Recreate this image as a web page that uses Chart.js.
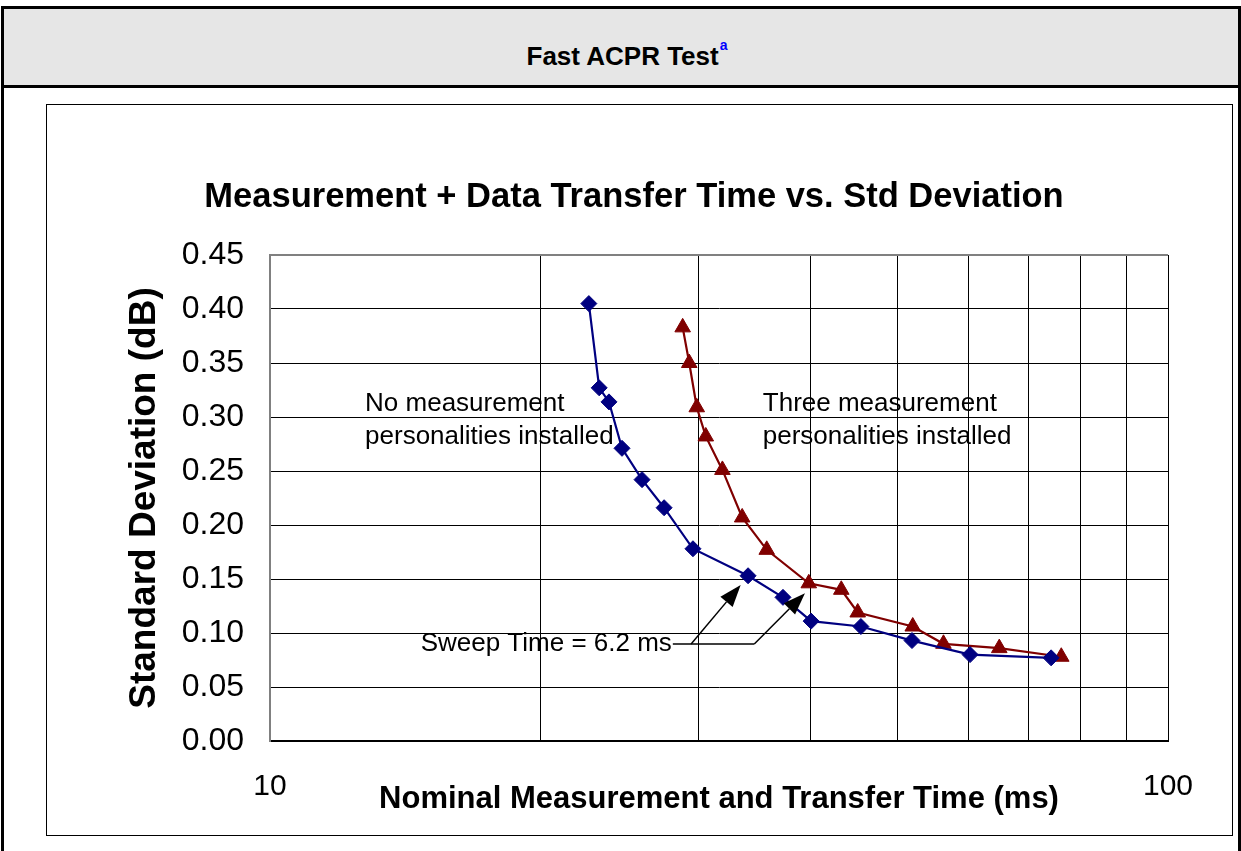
<!DOCTYPE html>
<html>
<head>
<meta charset="utf-8">
<title>Fast ACPR Test</title>
<script src="https://cdn.jsdelivr.net/npm/chart.js@4.4.1/dist/chart.umd.min.js"></script>
<style>
  body { margin: 0; background: #fff; font-family: "Liberation Sans", Arial, sans-serif; }
  #page { position: relative; width: 1241px; height: 851px; overflow: hidden; }
  #table { position: absolute; left: 1px; top: 6px; width: 1234px; height: 900px; border: 3px solid #000; }
  #header { height: 79px; background: #e6e6e6; border-bottom: 3px solid #000;
            display: flex; align-items: center; justify-content: center; padding: 18px 0 0 12px; box-sizing: border-box;
            font-weight: bold; font-size: 26px; }
  #header sup { color: #0000ff; font-size: 14px; position: relative; top: -11px; margin-left: 1px; }
  #box { position: absolute; left: 46px; top: 104px; width: 1185px; height: 730px; border: 1.5px solid #000; }
  #wrap { position: absolute; left: 48px; top: 106px; width: 1184px; height: 729px; }
</style>
</head>
<body>
<div id="page">
  <div id="table">
    <div id="header">Fast ACPR Test<sup>a</sup></div>
  </div>
  <div id="box"></div>
  <div id="wrap"><canvas id="chart" width="1184" height="729"></canvas></div>
</div>

<script>
// values
const nameNone = "No measurement personalities installed";
const nameThree = "Three measurement personalities installed";

const timeNone = [22.65, 23.26, 23.85, 24.66, 25.96, 27.47, 29.58, 34.07, 37.26, 40.05, 45.5, 51.87, 60.2, 74.1];
const sdNone = [0.405, 0.327, 0.314, 0.271, 0.242, 0.216, 0.178, 0.153, 0.133, 0.111, 0.106, 0.093, 0.080, 0.077];

const timeThree = [28.81, 29.30, 29.87, 30.57, 31.90, 33.56, 35.74, 39.81, 43.27, 45.13, 51.97, 56.23, 64.88, 76.06];
const sdThree = [0.383, 0.350, 0.309, 0.282, 0.251, 0.207, 0.177, 0.146, 0.140, 0.119, 0.106, 0.090, 0.086, 0.078];

const xGridValues = [10, 20, 30, 40, 50, 60, 70, 80, 90, 100];
const xTickLabels = [10, 100];
const yMin = 0, yMax = 0.45, yStep = 0.05;

// text notes, anchored in data units
const noteNone = { lines: ["No measurement", "personalities installed"], x: 12.76, y: 0.3058 };
const noteThree = { lines: ["Three measurement", "personalities installed"], x: 35.38, y: 0.3058 };
const sweepNote = {
    text: "Sweep Time = 6.2 ms",
    x: 28.02, y: 0.0898,
    elbows: [29.44, 34.62],
    tips: [[33.43, 0.1444], [39.42, 0.1368]]
};

const FONT = "'Liberation Sans', Arial, sans-serif";
Chart.defaults.font.family = FONT;
Chart.defaults.color = "#000";

function toXY(points) {
    return points[0].map((x, i) => ({ x: x, y: points[1][i] }));
}

// draws the free text and the two arrows
const notesPlugin = {
    id: "notes",
    afterDraw(chart) {
        const ctx = chart.ctx;
        const xs = chart.scales.x, ys = chart.scales.y;
        ctx.save();
        ctx.fillStyle = "#000";
        ctx.font = "26px " + FONT;
        ctx.textAlign = "left";
        ctx.textBaseline = "alphabetic";
        [noteNone, noteThree].forEach(n => {
            const px = xs.getPixelForValue(n.x);
            const py = ys.getPixelForValue(n.y);
            n.lines.forEach((line, i) => ctx.fillText(line, px, py + i * 33.5));
        });

        // sweep time label + leader lines
        const tx = xs.getPixelForValue(sweepNote.x);
        const ty = ys.getPixelForValue(sweepNote.y);
        ctx.textAlign = "right";
        ctx.textBaseline = "middle";
        ctx.fillText(sweepNote.text, tx, ty);

        const e1 = xs.getPixelForValue(sweepNote.elbows[0]);
        const e2 = xs.getPixelForValue(sweepNote.elbows[1]);
        const t1 = [xs.getPixelForValue(sweepNote.tips[0][0]), ys.getPixelForValue(sweepNote.tips[0][1])];
        const t2 = [xs.getPixelForValue(sweepNote.tips[1][0]), ys.getPixelForValue(sweepNote.tips[1][1])];
        ctx.strokeStyle = "#000";
        ctx.lineWidth = 1.5;
        ctx.beginPath();
        ctx.moveTo(tx + 1, ty);
        ctx.lineTo(e1, ty);
        ctx.lineTo(e2, ty);
        ctx.stroke();
        arrow(ctx, e1, ty, t1[0], t1[1]);
        arrow(ctx, e2, ty, t2[0], t2[1]);
        ctx.restore();
    }
};

function arrow(ctx, x0, y0, x1, y1) {
    const ang = Math.atan2(y1 - y0, x1 - x0);
    const len = 22, half = 8;
    const bx = x1 - Math.cos(ang) * len, by = y1 - Math.sin(ang) * len;
    ctx.beginPath();
    ctx.moveTo(x0, y0);
    ctx.lineTo(bx, by);
    ctx.stroke();
    ctx.beginPath();
    ctx.moveTo(x1, y1);
    ctx.lineTo(bx + Math.sin(ang) * half, by - Math.cos(ang) * half);
    ctx.lineTo(bx - Math.sin(ang) * half, by + Math.cos(ang) * half);
    ctx.closePath();
    ctx.fill();
}

new Chart(document.getElementById("chart"), {
    type: "line",
    data: {
        datasets: [
            {
                label: nameNone,
                data: toXY([timeNone, sdNone]),
                borderColor: "#000080",
                backgroundColor: "#000080",
                borderWidth: 2.2,
                pointStyle: "rectRot",
                pointRadius: 8,
                pointBorderWidth: 1,
                tension: 0
            },
            {
                label: nameThree,
                data: toXY([timeThree, sdThree]),
                borderColor: "#800000",
                backgroundColor: "#800000",
                borderWidth: 2.2,
                pointStyle: "triangle",
                pointRadius: 9,
                pointBorderWidth: 1,
                tension: 0
            }
        ]
    },
    options: {
        responsive: false,
        animation: false,
        layout: { padding: { left: 0, right: 12, top: 0, bottom: 0 } },
        plugins: {
            legend: { display: false },
            tooltip: { enabled: false },
            title: {
                display: true,
                text: "Measurement + Data Transfer Time vs. Std Deviation",
                font: { size: 34.5, weight: "bold" },
                color: "#000",
                padding: { top: 71, bottom: 36.6 }
            }
        },
        scales: {
            x: {
                type: "logarithmic",
                min: 10,
                max: 100,
                afterFit(scale) { scale.height = 94; },
                afterBuildTicks(scale) { scale.ticks = xGridValues.map(v => ({ value: v })); },
                border: { display: true, color: "#000", width: 2 },
                grid: { color: "#000", lineWidth: 1, drawTicks: false },
                ticks: {
                    autoSkip: false,
                    maxRotation: 0,
                    padding: 28,
                    font: { size: 30 },
                    callback: v => xTickLabels.includes(v) ? String(v) : ""
                },
                title: {
                    display: true,
                    text: "Nominal Measurement and Transfer Time (ms)",
                    font: { size: 31, weight: "bold" },
                    padding: { top: 0, bottom: 17 }
                }
            },
            y: {
                min: yMin,
                max: yMax,
                afterFit(scale) { scale.width = 222; },
                border: { display: true, color: "#808080", width: 2 },
                grid: {
                    color: ctx => (ctx.tick && Math.abs(ctx.tick.value - yMax) < 1e-9) ? "#808080" : "#000",
                    lineWidth: ctx => (ctx.tick && Math.abs(ctx.tick.value - yMax) < 1e-9) ? 2 : 1,
                    drawTicks: false
                },
                ticks: {
                    stepSize: yStep,
                    padding: 26,
                    font: { size: 32 },
                    callback: v => Number(v).toFixed(2)
                },
                title: {
                    display: true,
                    text: "Standard Deviation (dB)",
                    font: { size: 37, weight: "bold" },
                    padding: { top: 75, bottom: 0 }
                }
            },
            // empty right-hand strip, keeps the plot clear of the box edge
            side: {
                position: "right",
                display: true,
                afterFit(scale) { scale.width = 52; },
                grid: { display: false },
                border: { display: false },
                ticks: { display: false }
            }
        }
    },
    plugins: [notesPlugin]
});
</script>
</body>
</html>
